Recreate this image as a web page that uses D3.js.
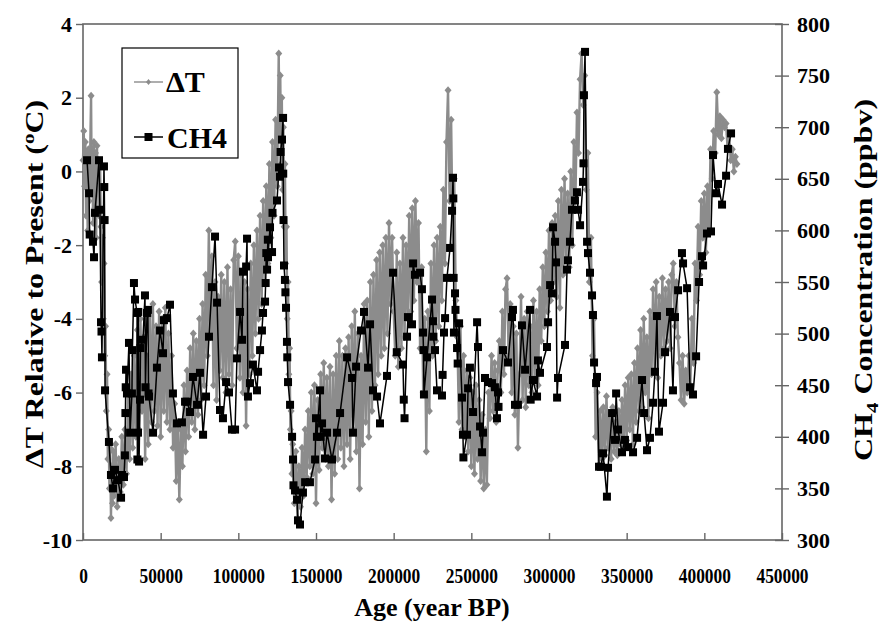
<!DOCTYPE html>
<html>
<head>
<meta charset="utf-8">
<script src="https://cdn.jsdelivr.net/npm/d3@7/dist/d3.min.js"></script>
<style>
  body { margin: 0; background: #fff; }
  svg text { font-family: "Liberation Serif", "DejaVu Serif", serif; font-weight: bold; fill: #000; }
</style>
</head>
<body>
<svg width="882" height="625"></svg>
<script>
// Vostok record: temperature anomaly and methane, age in kyr BP
var deltaT = [
[0,0.3],[0.5,1.1],[1,-0.4],[1.5,0.8],[2,-1.2],[2.5,0.5],[3,-1.6],[3.5,0.6],[4,-0.8],[4.5,0.2],[5.2,2.05],[5.6,-0.5],[6,0.4],[6.5,-1.4],[7,0.8],[7.5,-1.0],[8,0.5],[8.5,-1.8],[9,0.7],[9.5,-0.6],[10,0.3],[10.5,-1.2],[11,0.2],
[11.5,-1.5],[12,-3.0],[12.5,-1.8],[13,-4.0],[13.5,-2.5],[14,-5.0],[14.5,-4.2],[15,-6.5],[15.5,-5.5],[16,-7.8],[16.5,-7.0],
[17,-8.6],[17.5,-7.5],[18,-9.4],[18.5,-8.0],[19,-9.0],[19.5,-7.6],[20,-8.8],[21,-7.4],[22,-9.1],[23,-7.8],[24,-8.7],[25,-7.2],[26,-8.5],[27,-7.0],
[28,-8.2],[29,-6.0],[30,-7.8],[31,-5.5],[32,-7.5],[33,-5.0],[34,-7.2],
[35,-4.3],[36,-7.0],[37,-4.0],[38,-6.5],[39,-4.5],[40,-7.8],[41,-5.0],
[42,-7.4],[43,-3.9],[44,-6.8],[45,-3.6],[46,-6.5],[47,-4.2],
[48,-6.9],[49,-3.8],[50,-7.2],[51,-4.0],[52,-6.5],[53,-3.7],[54,-6.8],[55,-4.4],[56,-7.0],[57,-5.0],
[58,-7.5],[59,-6.3],[60,-8.4],[61,-6.8],[62,-8.9],[63,-7.0],
[64,-8.0],[65,-5.8],[66,-7.6],[67,-5.4],[68,-7.2],[69,-4.8],[70,-6.8],
[71,-4.4],[72,-7.0],[73,-4.6],[74,-6.6],[75,-4.0],
[76,-6.2],[77,-3.6],[78,-5.8],[79,-2.8],[80,-5.0],[81,-1.6],[82,-4.5],[83,-2.3],
[84,-5.8],[85,-3.0],[86,-6.2],[87,-3.4],[88,-5.4],[89,-2.8],[90,-5.6],
[91,-3.0],[92,-6.0],[93,-2.6],[94,-5.5],[95,-3.2],[96,-5.8],[97,-2.4],[98,-1.9],
[99,-4.8],[100,-2.3],[101,-5.6],[102,-2.8],[103,-6.0],[104,-3.0],[105,-6.9],[106,-3.2],[107,-5.5],
[108,-2.5],[109,-5.0],[110,-2.0],[111,-4.4],[112,-1.6],[113,-4.0],[114,-1.2],[115,-3.6],[116,-0.8],[117,-3.0],
[118,-0.4],[119,-2.5],[120,0.2],[121,-1.8],[122,0.8],[123,-1.2],[124,1.4],[125,-0.4],[126,3.2],
[126.5,1.0],[127,2.6],[127.5,0.2],[128,2.0],[128.5,-0.5],[129,1.2],[129.5,-1.5],[130,0.2],[130.5,-2.5],
[131,-1.5],[131.5,-4.0],[132,-3.0],[132.5,-5.5],[133,-4.8],[133.5,-7.0],[134,-6.5],[134.5,-8.2],
[135,-7.4],[136,-9.0],[137,-7.6],[138,-9.4],[139,-8.0],[140,-9.1],[141,-7.5],[142,-8.8],[143,-7.0],
[144,-8.3],[145,-6.5],[146,-8.0],[147,-6.0],[148,-8.2],[149,-5.8],[150,-9.0],[151,-6.2],[152,-8.1],[153,-5.5],[154,-7.5],[155,-5.2],[156,-7.8],[157,-5.6],[158,-8.0],[159,-5.3],
[160,-8.9],[161,-5.5],[162,-8.2],[163,-5.0],[164,-7.8],[165,-4.6],[166,-7.5],[167,-5.0],[168,-8.0],[169,-4.8],[170,-7.4],
[171,-4.5],[172,-7.8],[173,-4.2],[174,-7.0],[175,-3.8],[176,-7.6],[177,-4.4],[178,-8.6],[179,-5.0],[180,-7.4],[181,-3.6],[182,-6.8],
[183,-3.5],[184,-7.2],[185,-3.0],[186,-6.5],[187,-2.8],[188,-5.8],[189,-2.4],[190,-5.5],[191,-2.2],
[192,-5.0],[193,-2.0],[194,-4.8],[195,-1.8],[196,-4.4],[197,-1.4],[198,-3.6],[199,-1.8],[200,-3.8],
[201,-5.0],[202,-2.2],[203,-5.3],[204,-2.5],[205,-4.8],[206,-1.8],[207,-4.5],[208,-2.0],[209,-4.0],[210,-1.2],
[211,-3.8],[212,-1.0],[213,-3.5],[214,-0.8],[215,-3.0],[216,-1.4],[217,-4.8],[218,-2.6],[219,-6.0],[220,-4.0],[221,-7.6],[222,-3.8],[223,-6.5],
[224,-2.5],[225,-5.0],[226,-2.0],[227,-4.6],[228,-1.8],[229,-4.2],[230,-1.5],
[231,-3.5],[232,-0.5],[233,-2.5],[234,0.8],[235,2.2],[236,-0.8],[237,1.4],[238,-2.0],[239,-0.2],[240,-3.5],
[241,-4.5],[242,-6.8],[243,-4.2],[244,-7.0],[245,-5.0],[246,-7.2],[247,-5.4],
[248,-7.6],[249,-5.6],[250,-8.0],[251,-6.0],[252,-8.2],[253,-5.8],[254,-7.8],[255,-6.2],[256,-8.4],[257,-6.6],[258,-8.6],[259,-7.0],[260,-8.5],
[261,-6.0],[262,-6.7],[263,-5.0],[264,-6.5],[265,-5.2],[266,-6.8],[267,-5.4],
[268,-4.6],[269,-6.0],[270,-3.8],[271,-5.5],[272,-3.2],[273,-2.9],
[274,-5.0],[275,-3.6],[276,-6.0],[277,-4.2],[278,-6.6],[279,-4.4],[280,-7.5],
[281,-5.5],[282,-3.4],[283,-6.2],[284,-4.0],[285,-6.4],[286,-3.8],[287,-5.8],[288,-4.2],[289,-6.0],[290,-3.5],[291,-5.6],[292,-3.8],[293,-5.8],
[294,-3.2],[295,-4.6],[296,-2.6],[297,-4.2],[298,-2.2],[299,-3.8],[300,-1.6],[301,-3.5],[302,-1.4],[303,-3.0],
[304,-1.2],[305,-3.4],[306,-0.8],[307,-3.7],[308,-0.5],[309,-2.8],[310,-0.2],[311,-2.4],[312,-0.6],[313,-2.6],[314,0.0],[315,-2.0],
[316,0.8],[317,-0.8],[318,1.6],[319,0.5],[320,2.5],[321,3.2],[322,1.8],
[323,2.6],[324,-0.5],[325,0.5],[326,-3.0],[327,-1.8],[328,-5.0],[329,-4.0],
[330,-7.2],[331,-6.0],[332,-8.0],[333,-6.5],[334,-7.8],[335,-6.4],
[336,-7.7],[337,-6.1],[338,-7.5],[339,-6.6],[340,-7.8],[341,-6.4],[342,-7.6],[343,-6.8],[344,-7.7],[345,-6.5],[346,-7.4],[347,-6.2],[348,-7.5],
[349,-5.8],[350,-7.3],[351,-5.6],[352,-7.0],[353,-5.5],[354,-7.4],[355,-5.2],[356,-6.8],
[357,-4.8],[358,-6.5],[359,-4.3],[360,-6.4],[361,-4.0],[362,-6.0],[363,-4.5],[364,-6.7],[365,-3.8],[366,-5.5],
[367,-3.2],[368,-5.4],[369,-3.0],[370,-5.6],[371,-3.4],[372,-5.0],[373,-2.9],[374,-4.8],[375,-3.2],
[376,-4.6],[377,-3.0],[378,-4.8],[379,-2.8],[380,-2.5],[381,-4.2],[382,-3.0],[383,-4.5],
[384,-5.2],[385,-6.2],[386,-5.0],[387,-6.3],[388,-5.4],[389,-6.0],[390,-5.0],[391,-5.8],[392,-4.0],[393,-5.2],
[394,-2.5],[395,-3.5],[396,-1.5],[397,-2.8],[398,-0.8],[399,-1.8],
[400,-0.6],[401,-2.2],[402,-0.4],[403,-1.6],[404,0.6],[405,-0.2],
[406,1.1],[407,0.5],[408,2.15],[409,1.0],
[410,1.5],[411,0.9],[412,1.4],[413,1.2],[414,1.3],[415,0.6],[416,1.0],[417,0.3],[418,0.6],[419,0.0],[420,0.4],[421,0.2]
];

var ch4 = [
[2.6,668],[3.9,636],[4.3,596],[6.4,589],[7.1,574],[7.7,617],[10.3,668],[10.9,620],[11.6,511],[11.9,502],[12.2,477],[13.5,662],[13.7,642],[13.9,610],[14.2,445],[16.7,395],[18.0,363],[19.3,350],[20.6,368],[22.5,358],[24.5,341],[25.1,363],[26.4,361],[27.0,382],[27.3,423],[27.5,448],[27.7,465],[28.3,442],[29.6,491],[30.3,404],[31.5,442],[31.8,484],[32.8,549],[33.5,533],[34.8,520],[35.0,378],[35.4,404],[35.6,521],[36.1,376],[36.7,436],[37.0,486],[38.6,494],[39.9,537],[40.2,448],[41.2,520],[41.8,523],[42.2,442],[42.5,439],[45.1,404],[47.6,467],[49.6,503],[51.5,481],[52.1,513],[54.1,515],[56.0,528],[57.9,442],[60.5,413],[63.7,414],[65.7,434],[67.0,434],[68.9,424],[70.8,458],[73.4,431],[75.3,462],[77.3,402],[79.2,439],[81.1,497],[83.0,545],[85.0,594],[86.3,530],[88.2,426],[90.1,418],[92.1,453],[94.0,443],[95.9,407],[97.9,407],[99.1,476],[101.1,521],[102.4,494],[103.0,560],[105.0,565],[105.6,592],[106.2,439],[107.5,452],[109.4,470],[112.0,445],[112.7,463],[114.0,484],[115.2,503],[115.9,520],[117.2,531],[117.6,549],[118.0,578],[118.5,562],[119.0,591],[119.1,574],[120.4,603],[121.7,579],[122.0,617],[124.9,629],[126.2,661],[126.8,652],[127.2,676],[128.1,688],[128.8,709],[128.9,655],[129.1,610],[129.4,566],[130.0,552],[130.3,540],[130.7,525],[131.3,492],[131.5,477],[132.0,453],[133.3,431],[134.6,400],[135.2,378],[135.5,353],[136.5,348],[137.8,339],[138.4,319],[139.7,315],[141.6,346],[143.0,356],[146.1,356],[149.4,378],[150.0,418],[150.6,400],[152.6,445],[153.0,400],[153.9,413],[155.8,379],[157.1,404],[160.3,378],[163.5,404],[165.5,423],[170.0,477],[173.2,457],[173.8,404],[175.8,468],[179.0,503],[180.9,521],[183.5,467],[184.8,509],[186.7,445],[189.3,439],[191.2,413],[195.7,459],[199.6,559],[202.0,482],[206.0,470],[206.5,436],[207.0,418],[208.6,497],[209.2,516],[211.8,509],[212.5,568],[213.7,557],[217.0,559],[218.2,543],[218.9,501],[219.2,484],[219.5,441],[221.5,477],[224.7,533],[225.3,512],[225.6,497],[226.6,484],[227.9,445],[231.1,440],[231.5,460],[232.4,501],[233.1,515],[234.3,554],[236.3,583],[237.6,619],[238.2,651],[238.4,631],[238.6,554],[238.8,501],[239.5,539],[239.8,523],[240.8,486],[241.2,471],[242.1,510],[244.0,438],[244.6,402],[244.9,380],[247.2,402],[247.9,447],[249.1,467],[251.1,424],[253.7,511],[254.3,487],[255.6,410],[256.9,385],[257.5,404],[258.8,457],[260.7,453],[263.3,452],[265.2,448],[266.5,418],[267.2,443],[267.5,429],[270.4,484],[273.6,472],[276.2,516],[276.8,523],[278.1,431],[280.0,431],[282.6,508],[284.6,465],[287.8,523],[288.2,436],[289.7,455],[292.3,439],[292.9,474],[294.2,462],[298.7,487],[299.4,511],[300.7,547],[301.9,539],[302.6,603],[303.9,589],[304.5,569],[305.2,438],[305.8,457],[310.3,489],[311.6,562],[312.2,571],[313.5,589],[314.8,620],[316.7,629],[318.0,637],[318.7,620],[320.0,605],[321.9,647],[322.2,665],[322.5,731],[323.2,773],[324.5,589],[325.1,578],[326.4,559],[327.7,537],[328.3,518],[329.0,472],[330.3,452],[330.9,458],[332.2,371],[333.5,371],[334.8,384],[337.3,342],[338.0,370],[340.6,423],[342.5,397],[343.2,442],[344.4,407],[347.0,385],[348.9,397],[350.9,390],[354.1,385],[356.7,399],[359.9,455],[361.2,423],[363.1,387],[365.0,399],[367.0,433],[368.2,463],[369.5,517],[370.8,405],[373.4,433],[374.7,482],[377.9,521],[379.8,445],[381.1,516],[383.1,542],[385.6,578],[386.3,568],[388.9,544],[390.8,448],[392.7,441],[394.7,478],[396.6,550],[398.5,575],[399.2,566],[401.7,597],[404.3,599],[405.6,673],[407.5,636],[408.8,645],[411.4,625],[414.0,653],[415.2,679],[417.2,694]
];

var ageTicks = [0, 50000, 100000, 150000, 200000, 250000, 300000, 350000, 400000, 450000];
var tempTicks = [-10, -8, -6, -4, -2, 0, 2, 4];
var ch4Ticks = [300, 350, 400, 450, 500, 550, 600, 650, 700, 750, 800];

var svg = d3.select("svg"),
    plotL = 83, plotR = 782, plotT = 24, plotB = 540;

var x = d3.scaleLinear().domain([0, 450000]).range([plotL, plotR]);
var yT = d3.scaleLinear().domain([-10, 4]).range([plotB, plotT]);
var yC = d3.scaleLinear().domain([300, 800]).range([plotB, plotT]);

var axisColor = "#666";

// plot frame
svg.append("rect")
    .attr("x", plotL).attr("y", plotT)
    .attr("width", plotR - plotL).attr("height", plotB - plotT)
    .attr("fill", "none").attr("stroke", axisColor).attr("stroke-width", 1.6);

function styleAxis(g) {
    g.select(".domain").remove();
    g.selectAll("line").attr("stroke", axisColor).attr("stroke-width", 1.4);
    g.selectAll("text").attr("font-family", "Liberation Serif").attr("font-weight", "bold")
        .attr("font-size", 22).attr("fill", "#000");
}

var xAxisG = svg.append("g")
    .attr("transform", "translate(0," + plotB + ")")
    .call(d3.axisBottom(x).tickValues(ageTicks).tickSize(-7).tickPadding(27).tickFormat(function(d) { return String(d); }))
    .call(styleAxis);
// x labels are narrow in the original
xAxisG.selectAll(".tick text").attr("transform", "scale(0.79,1)");

svg.append("g")
    .attr("transform", "translate(" + plotL + ",0)")
    .call(d3.axisLeft(yT).tickValues(tempTicks).tickSize(7).tickPadding(4).tickFormat(function(d) { return String(d); }))
    .call(styleAxis);

var rAxis = svg.append("g")
    .attr("transform", "translate(" + plotR + ",0)")
    .call(d3.axisRight(yC).tickValues(ch4Ticks).tickSize(7).tickPadding(8).tickFormat(function(d) { return String(d); }))
    .call(styleAxis);
rAxis.selectAll(".tick line").attr("x1", -7);

// series
var plot = svg.append("g");

var tLine = d3.line().x(function(d) { return x(d[0] * 1000); }).y(function(d) { return yT(d[1]); });
var cLine = d3.line().x(function(d) { return x(d[0] * 1000); }).y(function(d) { return yC(d[1]); });

var grey = "#8c8c8c";
var diamondPath = "M0,-4L3.5,0L0,4L-3.5,0Z";

plot.append("path").datum(deltaT)
    .attr("d", tLine).attr("fill", "none").attr("stroke", grey).attr("stroke-width", 2.4)
    .attr("stroke-linejoin", "round");
plot.append("g").selectAll("path")
    .data(deltaT).enter().append("path")
    .attr("d", diamondPath)
    .attr("transform", function(d) { return "translate(" + x(d[0] * 1000) + "," + yT(d[1]) + ")"; })
    .attr("fill", grey);

plot.append("path").datum(ch4)
    .attr("d", cLine).attr("fill", "none").attr("stroke", "#000").attr("stroke-width", 1.5);
plot.append("g").selectAll("rect")
    .data(ch4).enter().append("rect")
    .attr("x", function(d) { return x(d[0] * 1000) - 4; })
    .attr("y", function(d) { return yC(d[1]) - 4; })
    .attr("width", 8).attr("height", 8)
    .attr("fill", "#000");

// legend
var lg = svg.append("g");
lg.append("rect").attr("x", 122).attr("y", 48).attr("width", 116).attr("height", 110)
    .attr("fill", "#fff").attr("stroke", "#000").attr("stroke-width", 1.2);
lg.append("line").attr("x1", 134).attr("x2", 163).attr("y1", 82).attr("y2", 82)
    .attr("stroke", grey).attr("stroke-width", 1.4);
lg.append("path").attr("d", "M0,-3L2.5,0L0,3L-2.5,0Z").attr("transform", "translate(148.5,82)").attr("fill", grey);
lg.append("text").attr("x", 166).attr("y", 92).attr("font-size", 30).attr("font-weight", "normal").text("ΔT");
lg.append("line").attr("x1", 134).attr("x2", 163).attr("y1", 137).attr("y2", 137)
    .attr("stroke", "#000").attr("stroke-width", 1.5);
lg.append("rect").attr("x", 144.5).attr("y", 133).attr("width", 8).attr("height", 8).attr("fill", "#000");
lg.append("text").attr("x", 167).attr("y", 148).attr("font-size", 30).text("CH4");

// axis titles
svg.append("text").attr("x", 432).attr("y", 616).attr("text-anchor", "middle")
    .attr("font-size", 26).text("Age (year BP)");

var lt = svg.append("text").attr("transform", "translate(43,284) rotate(-90) scale(1.23,1)")
    .attr("text-anchor", "middle").attr("font-size", 26);
lt.append("tspan").text("ΔT Relative to Present (");
lt.append("tspan").attr("dy", -9).attr("font-size", 17).text("o");
lt.append("tspan").attr("dy", 9).text("C)");

var rt = svg.append("text").attr("transform", "translate(872,280) rotate(-90) scale(1.23,1)")
    .attr("text-anchor", "middle").attr("font-size", 26);
rt.append("tspan").text("CH");
rt.append("tspan").attr("dy", 6).attr("font-size", 17).text("4");
rt.append("tspan").attr("dy", -6).text(" Concentration (ppbv)");
</script>
</body>
</html>
